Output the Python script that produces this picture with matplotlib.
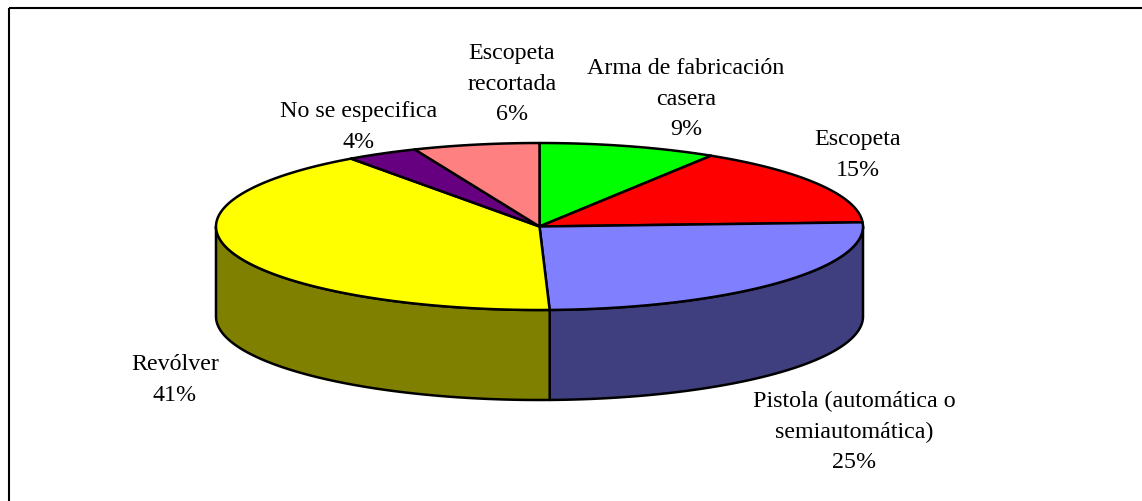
import numpy as np
import matplotlib
matplotlib.use("Agg")
import matplotlib.pyplot as plt
from matplotlib.patches import Polygon

# ---- data ----
categories = ["Arma de fabricación\ncasera", "Escopeta",
              "Pistola (automática o\nsemiautomática)", "Revólver",
              "No se especifica", "Escopeta\nrecortada"]
shares = [8.9, 15.3, 25.3, 40.6, 3.6, 6.3]
pct_labels = ["9%", "15%", "25%", "41%", "4%", "6%"]
top_colors = ["#00FF00", "#FF0000", "#8080FF", "#FFFF00", "#660080", "#FF8080"]
side_colors = ["#008000", "#800000", "#3F3F7F", "#808000", "#330040", "#804040"]

W, H = 1142, 501
fig = plt.figure(figsize=(W / 100, H / 100), dpi=100)
ax = fig.add_axes([0, 0, 1, 1])
ax.set_xlim(0, W)
ax.set_ylim(H, 0)
ax.axis("off")

cx, cy, rx, ry, depth = 539.5, 226.5, 323.5, 83.5, 90.0

def pt(phi_deg, dy=0.0):
    p = np.radians(phi_deg)
    return cx + rx * np.sin(p), cy - ry * np.cos(p) + dy

cum = np.concatenate([[0], np.cumsum(shares)]) / sum(shares) * 360.0

# side walls (front half: 90..270 degrees clockwise from top)
for i in range(len(shares)):
    a, b = max(cum[i], 90), min(cum[i + 1], 270)
    if b <= a:
        continue
    ph = np.linspace(a, b, 100)
    topx, topy = pt(ph)
    botx, boty = pt(ph[::-1], depth)
    poly = np.column_stack([np.concatenate([topx, botx]), np.concatenate([topy, boty])])
    ax.add_patch(Polygon(poly, closed=True, facecolor=side_colors[i],
                         edgecolor="black", linewidth=1.8, joinstyle="round"))

# top slices
for i in range(len(shares)):
    ph = np.linspace(cum[i], cum[i + 1], 200)
    x, y = pt(ph)
    poly = np.column_stack([np.concatenate([[cx], x]), np.concatenate([[cy], y])])
    ax.add_patch(Polygon(poly, closed=True, facecolor=top_colors[i],
                         edgecolor="black", linewidth=1.8, joinstyle="round"))

# labels
label_pos = [(686, 99), (858, 155), (854, 432), (175, 380), (359, 127), (512, 84)]
for cat, pl, (lx, ly) in zip(categories, pct_labels, label_pos):
    ax.text(lx, ly, cat + "\n" + pl, ha="center", va="center",
            fontfamily="Liberation Serif", fontsize=17.3, linespacing=1.6,
            color="black")

# frame (top and left edges visible)
ax.plot([8.5, W], [7.5, 7.5], color="black", linewidth=1.5, solid_capstyle="butt")
ax.plot([8.5, 8.5], [7.5, H], color="black", linewidth=1.5, solid_capstyle="butt")

fig.savefig("out.png", dpi=100)
